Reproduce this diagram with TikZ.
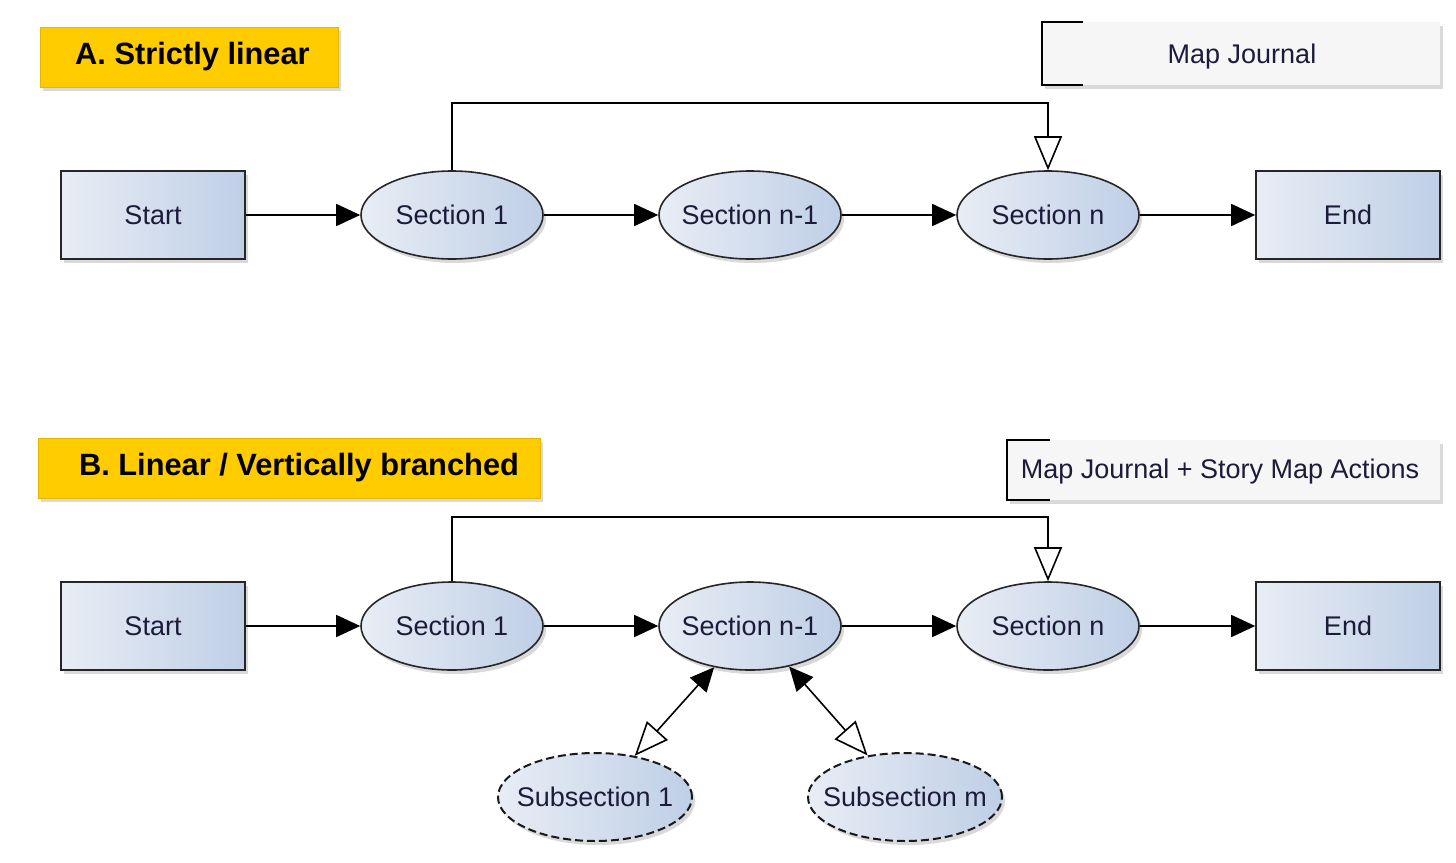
\documentclass[tikz,border=0pt]{standalone}
\usepackage{fontspec}
\setmainfont{Liberation Sans}
\usetikzlibrary{shapes.geometric,arrows.meta,shadows}
\definecolor{ttl}{HTML}{FFCC00}
\definecolor{bl}{HTML}{E8EDF5}
\definecolor{br}{HTML}{BFCFE6}
\definecolor{txt}{HTML}{1C1C3A}
\definecolor{note}{HTML}{F6F6F6}
\newcommand\zw[1]{\makebox[0pt][c]{#1}}
\tikzset{
  shd/.style={drop shadow={shadow xshift=3pt,shadow yshift=-4pt,opacity=0.3,fill=gray}},
  lbl/.style={font=\fontsize{27}{32}\selectfont,text=txt},
  rectbox/.style={draw=black!85,line width=1.6pt,left color=bl,right color=br,minimum width=184pt,minimum height=88pt,shd,lbl},
  sect/.style={ellipse,draw=black!85,line width=1.6pt,left color=bl,right color=br,minimum width=182pt,minimum height=88pt,inner sep=0pt,shd,lbl},
  subsect/.style={sect,draw=black!90,line width=2pt,dash pattern=on 8pt off 4pt,minimum width=194pt},
  titlebox/.style={fill=ttl,draw=ttl!90!black,line width=0.8pt,shd,inner sep=0pt},
  titletext/.style={font=\fontsize{30.8}{36}\selectfont\bfseries,text=black,inner sep=0pt},
  notebox/.style={fill=note,shd,inner sep=0pt},
  conn/.style={line width=1.6pt,draw=black},
  fa/.style={conn,-{Triangle[length=24pt,width=22pt]}},
  oa/.style={conn,-{Triangle[open,length=34pt,width=28pt,fill=white]}},
  ba/.style={conn,{Triangle[open,length=34pt,width=28pt,fill=white]}-{Triangle[length=24pt,width=22pt]}},
}
\begin{document}
\begin{tikzpicture}[x=1pt,y=-1pt]
\useasboundingbox (0,0) rectangle (1456,862);
% ---------- A ----------
\node[titlebox,minimum width=298pt,minimum height=60pt] (tA) at (189,57) {};
\node[titletext] (tAt) at (192.5,57) {A. Strictly linear};
\node[notebox,minimum width=398pt,minimum height=63pt] (nA) at (1241,53.5) {};
\node[lbl,inner sep=0pt] (nAt) at (1242,57) {Map Journal};
\draw[line width=1.6pt] (1083,22) -- (1042,22) -- (1042,85) -- (1083,85);

\node[rectbox] (sA) at (153,215) {Start};
\node[sect] (a1) at (452,215) {\zw{Section 1}};
\node[sect] (a2) at (750,215) {\zw{Section n-1}};
\node[sect] (a3) at (1048,215) {\zw{Section n}};
\node[rectbox] (eA) at (1348,215) {End};
\draw[fa] (sA) -- (a1);
\draw[fa] (a1) -- (a2);
\draw[fa] (a2) -- (a3);
\draw[fa] (a3) -- (eA);
\draw[oa] (a1.north) -- ++(0,-67) -| (a3.north);

% ---------- B ----------
\node[titlebox,minimum width=502pt,minimum height=60pt] (tB) at (289,468) {};
\node[titletext] (tBt) at (299,468) {B. Linear / Vertically branched};
\node[notebox,minimum width=433pt,minimum height=60pt] (nB) at (1223.5,470) {};
\node[lbl,inner sep=0pt] (nBt) at (1220,472) {Map Journal + Story Map Actions};
\draw[line width=1.6pt] (1050,440) -- (1007,440) -- (1007,500) -- (1050,500);

\node[rectbox] (sB) at (153,626) {Start};
\node[sect] (b1) at (452,626) {\zw{Section 1}};
\node[sect] (b2) at (750,626) {\zw{Section n-1}};
\node[sect] (b3) at (1048,626) {\zw{Section n}};
\node[rectbox] (eB) at (1348,626) {End};
\draw[fa] (sB) -- (b1);
\draw[fa] (b1) -- (b2);
\draw[fa] (b2) -- (b3);
\draw[fa] (b3) -- (eB);
\draw[oa] (b1.north) -- ++(0,-64) -| (b3.north);

\node[subsect] (c1) at (595,797) {\zw{Subsection 1}};
\node[subsect] (c2) at (905,797) {\zw{Subsection m}};
\draw[ba] (c1.46) -- (b2.229);
\draw[ba] (c2.132) -- (b2.314);
\end{tikzpicture}
\end{document}
